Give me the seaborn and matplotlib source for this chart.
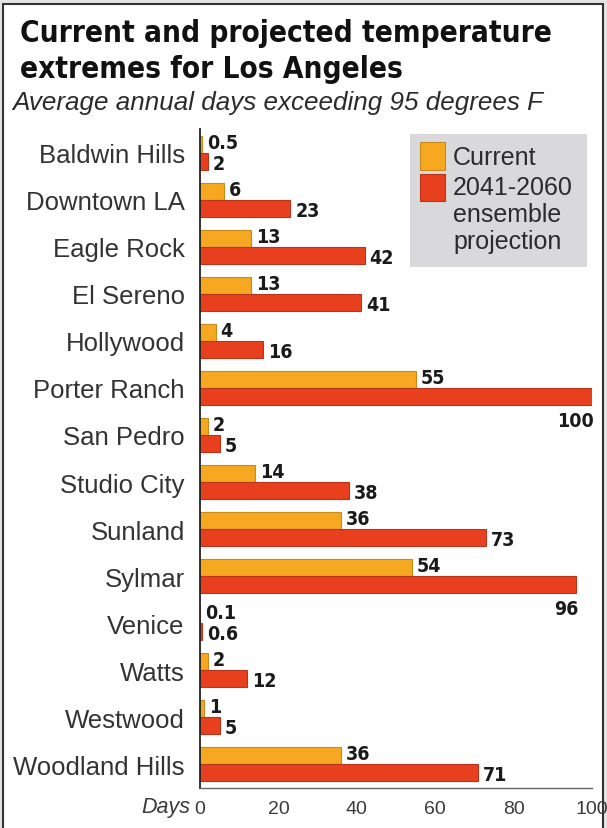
import numpy as np
import pandas as pd
import seaborn as sns
import matplotlib.pyplot as plt
from matplotlib.patches import Rectangle
from matplotlib.transforms import ScaledTranslation
from matplotlib import font_manager

# Data
areas = ["Baldwin Hills", "Downtown LA", "Eagle Rock", "El Sereno", "Hollywood",
         "Porter Ranch", "San Pedro", "Studio City", "Sunland", "Sylmar",
         "Venice", "Watts", "Westwood", "Woodland Hills"]
current = [0.5, 6, 13, 13, 4, 55, 2, 14, 36, 54, 0.1, 2, 1, 36]
projected = [2, 23, 42, 41, 16, 100, 5, 38, 73, 96, 0.6, 12, 5, 71]
series = ["Current", "2041-2060 ensemble projection"]
xticks = [0, 20, 40, 60, 80, 100]

df = pd.DataFrame({
    "area": areas * 2,
    "days": current + projected,
    "series": [series[0]] * len(areas) + [series[1]] * len(areas),
})

ORANGE = "#F6A821"
RED = "#E8401F"
EDGES = ["#C78A1E", "#B8351C"]
TXT = "#2b2b2b"

# condensed bold face for title / value labels if there is one
fl = font_manager.fontManager.ttflist
has_cond = any(f.name == "DejaVu Sans" and "ondensed" in f.fname for f in fl)
NARROW = dict(family="DejaVu Sans", fontstretch="condensed") if has_cond else dict(family="Roboto")
SANS = "Liberation Sans"

sns.set_style("white")
plt.rcParams["font.family"] = [SANS, "DejaVu Sans"]

W, H = 607, 829
fig = plt.figure(figsize=(W / 100, H / 100), dpi=100, facecolor="#e4e4e4")


def fx(x):
    return x / W


def fy(y):
    return 1 - y / H


# white panel with dark frame
fig.patches.append(Rectangle((fx(3), fy(840)), fx(603) - fx(3), fy(5) - fy(840),
                             transform=fig.transFigure, facecolor="white",
                             edgecolor="#333333", linewidth=1.5, zorder=-5))

ax = fig.add_axes([fx(200), fy(789), fx(592) - fx(200), (789 - 130) / H])
ax.patch.set_alpha(0)
sns.barplot(data=df, y="area", x="days", hue="series", orient="h",
            palette=[ORANGE, RED], width=0.72, saturation=1, legend=False,
            linewidth=0.8, ax=ax)
for cont, ec in zip(ax.containers, EDGES):
    for bar in cont:
        bar.set_edgecolor(ec)

ax.set_xlim(0, 100)
ax.set_ylim(13.51, -0.51)
ax.set_xticks(xticks)
ax.set_xlabel("")
ax.set_ylabel("")
sns.despine(ax=ax, top=True, right=True)
ax.spines["left"].set_color("#222222")
ax.spines["left"].set_linewidth(1.3)
ax.spines["bottom"].set_color("#666666")
ax.spines["bottom"].set_linewidth(1.0)
ax.tick_params(axis="x", direction="in", length=6, color="#666666",
               labelsize=14, labelcolor="#3a3a3a", pad=9)
ax.tick_params(axis="y", length=0, labelsize=18.5, labelcolor="#333333", pad=11)

# value labels
def fmt(v):
    return str(int(v)) if float(v).is_integer() else str(v)

up = ScaledTranslation(5 / 100, 2.5 / 100, fig.dpi_scale_trans)
down = ScaledTranslation(5 / 100, -2 / 100, fig.dpi_scale_trans)
below = ScaledTranslation(2 / 100, -6 / 100, fig.dpi_scale_trans)
for i, cont in enumerate(ax.containers):
    vals = current if i == 0 else projected
    for bar, v in zip(cont, vals):
        yc = bar.get_y() + bar.get_height() / 2
        if i == 1 and v >= 90:
            ax.text(v, bar.get_y() + bar.get_height(), fmt(v), ha="right", va="top",
                    fontsize=14, fontweight="bold", color="#1a1a1a",
                    transform=ax.transData + below, **NARROW)
        else:
            ax.text(v, yc, fmt(v), ha="left", va="center",
                    fontsize=14, fontweight="bold", color="#1a1a1a",
                    transform=ax.transData + (up if i == 0 else down), **NARROW)

fig.text(fx(190), fy(808), "Days", ha="right", va="center", fontsize=15.5,
         style="italic", color="#3a3a3a")

# titles
fig.text(fx(20), fy(42), "Current and projected temperature",
         ha="left", va="baseline", fontsize=21.3, fontweight="bold",
         color="#111111", **NARROW)
fig.text(fx(20), fy(78), "extremes for Los Angeles",
         ha="left", va="baseline", fontsize=21.3, fontweight="bold",
         color="#111111", **NARROW)
fig.text(fx(12), fy(110), "Average annual days exceeding 95 degrees F",
         ha="left", va="baseline", fontsize=18.7, style="italic", color=TXT)

# legend box
fig.patches.append(Rectangle((fx(410), fy(268)), fx(587) - fx(410), fy(135) - fy(268),
                             transform=fig.transFigure, facecolor="#D9D9DB",
                             edgecolor="none", zorder=1))
for (y0, y1), c, ec in zip([(143, 171), (175, 202)], [ORANGE, RED], EDGES):
    fig.patches.append(Rectangle((fx(420), fy(y1)), fx(445) - fx(420), fy(y0) - fy(y1),
                                 transform=fig.transFigure, facecolor=c,
                                 edgecolor=ec, linewidth=0.8, zorder=2))
fig.text(fx(453), fy(158), "Current", ha="left", va="center", fontsize=18, color=TXT)
fig.text(fx(453), fy(176), "2041-2060\nensemble\nprojection", ha="left", va="top",
         fontsize=18, color=TXT, linespacing=1.17)

fig.savefig("out.png", dpi=100, facecolor=fig.get_facecolor())
